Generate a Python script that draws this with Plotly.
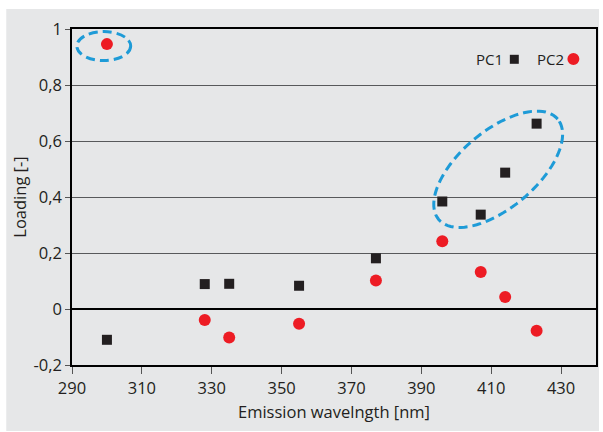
import numpy as np
import plotly.graph_objects as go

# ---- data ----
wavelength = [300, 328, 335, 355, 377, 396, 407, 414, 423]
pc1 = [-0.110, 0.089, 0.090, 0.083, 0.181, 0.384, 0.337, 0.487, 0.662]
pc2 = [0.946, -0.039, -0.102, -0.053, 0.102, 0.242, 0.132, 0.043, -0.078]

x_ticks = [290, 310, 330, 350, 370, 390, 410, 430]
y_ticks = [-0.2, 0, 0.2, 0.4, 0.6, 0.8, 1]
y_ticktext = ["-0,2", "0", "0,2", "0,4", "0,6", "0,8", "1"]

x_range = [290, 440]
y_range = [-0.2, 1.0]

# ---- layout geometry ----
W, H = 603, 432
ML, MR, MT, MB = 72, 5, 29, 67
PW, PH = W - ML - MR, H - MT - MB
px_per_x = PW / (x_range[1] - x_range[0])
px_per_y = PH / (y_range[1] - y_range[0])

def paper_x(px):
    return (px - ML) / PW

def paper_y(py):
    return (H - MB - py) / PH

TEXT = "#231f20"
BG = "#e6e7e8"
BLUE = "#1e9bd7"
RED = "#ed1c24"
FONT = "Open Sans"

fig = go.Figure()
fig.add_trace(go.Scatter(x=wavelength, y=pc1, mode="markers", name="PC1",
                         marker=dict(symbol="square", size=10, color=TEXT),
                         showlegend=False))
fig.add_trace(go.Scatter(x=wavelength, y=pc2, mode="markers", name="PC2",
                         marker=dict(symbol="circle", size=12, color=RED),
                         showlegend=False))

shapes = []
# grey panel behind everything
shapes.append(dict(type="rect", xref="paper", yref="paper", layer="below",
                   x0=paper_x(6), x1=paper_x(601), y0=paper_y(431), y1=paper_y(9),
                   fillcolor=BG, line=dict(width=0)))

# ellipse around PC2 at 300 nm (axis aligned)
e1_cx, e1_cy, e1_a, e1_b = 299.1, 0.939, 27, 14.5
shapes.append(dict(type="circle", xref="x", yref="y",
                   x0=e1_cx - e1_a / px_per_x, x1=e1_cx + e1_a / px_per_x,
                   y0=e1_cy - e1_b / px_per_y, y1=e1_cy + e1_b / px_per_y,
                   line=dict(color=BLUE, width=3, dash="9px,5px")))

# tilted ellipse around PC1 cluster
e2_cx, e2_cy, e2_a, e2_b, e2_ang = 412.0, 0.499, 78, 38.5, 40
t = np.linspace(0, 2 * np.pi, 91)
th = np.deg2rad(e2_ang)
dx = e2_a * np.cos(t) * np.cos(th) - e2_b * np.sin(t) * np.sin(th)
dy = e2_a * np.cos(t) * np.sin(th) + e2_b * np.sin(t) * np.cos(th)
xs = e2_cx + dx / px_per_x
ys = e2_cy + dy / px_per_y
path = "M " + " L ".join(f"{a:.3f},{b:.4f}" for a, b in zip(xs, ys)) + " Z"
shapes.append(dict(type="path", xref="x", yref="y", path=path,
                   line=dict(color=BLUE, width=3, dash="9px,5px")))

# legend markers
shapes.append(dict(type="rect", xref="paper", yref="paper",
                   x0=paper_x(511.5), x1=paper_x(520.5), y0=paper_y(63.8), y1=paper_y(54.8),
                   fillcolor=TEXT, line=dict(width=0)))
shapes.append(dict(type="circle", xref="paper", yref="paper",
                   x0=paper_x(569.3), x1=paper_x(581.3), y0=paper_y(65), y1=paper_y(53),
                   fillcolor=RED, line=dict(width=0)))

annotations = [
    dict(text="PC1", xref="paper", yref="paper", x=paper_x(507), y=paper_y(59),
         xanchor="right", yanchor="middle", showarrow=False,
         font=dict(family=FONT, size=15, color=TEXT)),
    dict(text="PC2", xref="paper", yref="paper", x=paper_x(567.5), y=paper_y(59),
         xanchor="right", yanchor="middle", showarrow=False,
         font=dict(family=FONT, size=15, color=TEXT)),
]

fig.update_layout(
    width=W, height=H,
    margin=dict(l=ML, r=MR, t=MT, b=MB, pad=0),
    paper_bgcolor="white", plot_bgcolor=BG,
    font=dict(family=FONT, size=16.5, color=TEXT),
    shapes=shapes, annotations=annotations,
    xaxis=dict(range=x_range, tickvals=x_ticks, ticks="outside", ticklen=7,
               tickcolor="#555", showgrid=False, zeroline=False,
               showline=True, linecolor="black", linewidth=2, mirror=True,
               title=dict(text="Emission wavelngth [nm]", standoff=9,
                          font=dict(size=16.5))),
    yaxis=dict(range=y_range, tickvals=y_ticks, ticktext=y_ticktext,
               ticks="outside", ticklen=5, tickcolor="#555",
               showgrid=True, gridcolor="#58595b", gridwidth=1,
               zeroline=True, zerolinecolor="black", zerolinewidth=1.5,
               showline=True, linecolor="black", linewidth=1.5, mirror=True,
               title=dict(text="Loading [-]", standoff=3,
                          font=dict(size=16.5))),
)

fig.write_html("out.html")
